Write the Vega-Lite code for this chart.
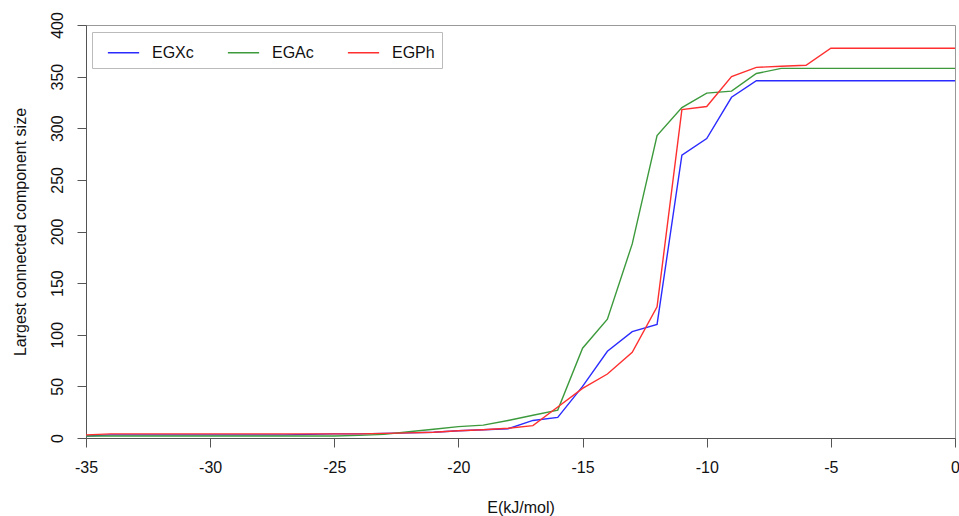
{
  "$schema": "https://vega.github.io/schema/vega-lite/v6.json",
  "width": 869,
  "height": 413,
  "autosize": "none",
  "padding": {"left": 86, "top": 25, "right": 4, "bottom": 78},
  "background": "white",
  "config": {
    "font": "Liberation Sans",
    "view": {"stroke": "#999", "strokeWidth": 1},
    "axis": {
      "grid": false,
      "labelFont": "Liberation Sans",
      "titleFont": "Liberation Sans",
      "labelFontSize": 16,
      "titleFontSize": 16,
      "labelColor": "#111",
      "titleColor": "#111",
      "titleFontWeight": "normal",
      "domainColor": "#555",
      "tickColor": "#555",
      "tickSize": 9
    },
    "legend": {
      "orient": "none",
      "legendX": 6,
      "legendY": 7,
      "direction": "horizontal",
      "columns": 3,
      "symbolType": "M-1.25,0H1.25",
      "symbolSize": 625,
      "symbolOffset": 11,
      "symbolStrokeWidth": 1.6,
      "labelFont": "Liberation Sans",
      "labelFontSize": 16,
      "labelColor": "#111",
      "labelOffset": 15,
      "columnPadding": 25,
      "padding": 7,
      "strokeColor": "#bbb",
      "fillColor": "white",
      "cornerRadius": 0
    }
  },
  "data": {
    "values": [
      {"E": -35, "EGXc": 2, "EGAc": 2, "EGPh": 3},
      {"E": -34, "EGXc": 3, "EGAc": 2, "EGPh": 4},
      {"E": -33, "EGXc": 3, "EGAc": 2, "EGPh": 4},
      {"E": -32, "EGXc": 3, "EGAc": 2, "EGPh": 4},
      {"E": -31, "EGXc": 3, "EGAc": 2, "EGPh": 4},
      {"E": -30, "EGXc": 3, "EGAc": 2, "EGPh": 4},
      {"E": -29, "EGXc": 3, "EGAc": 2, "EGPh": 4},
      {"E": -28, "EGXc": 3, "EGAc": 2, "EGPh": 4},
      {"E": -27, "EGXc": 3, "EGAc": 2, "EGPh": 4},
      {"E": -26, "EGXc": 3.5, "EGAc": 2, "EGPh": 4},
      {"E": -25, "EGXc": 4, "EGAc": 2, "EGPh": 4},
      {"E": -24, "EGXc": 4, "EGAc": 2.5, "EGPh": 4},
      {"E": -23, "EGXc": 4.5, "EGAc": 3.5, "EGPh": 4.5},
      {"E": -22, "EGXc": 5, "EGAc": 6, "EGPh": 5},
      {"E": -21, "EGXc": 5.5, "EGAc": 8.5, "EGPh": 5.5},
      {"E": -20, "EGXc": 7, "EGAc": 11, "EGPh": 7},
      {"E": -19, "EGXc": 8, "EGAc": 12.5, "EGPh": 8},
      {"E": -18, "EGXc": 9, "EGAc": 17, "EGPh": 9.5},
      {"E": -17, "EGXc": 17, "EGAc": 22, "EGPh": 12},
      {"E": -16, "EGXc": 20, "EGAc": 27, "EGPh": 30},
      {"E": -15, "EGXc": 50, "EGAc": 87, "EGPh": 48},
      {"E": -14, "EGXc": 84, "EGAc": 115, "EGPh": 62},
      {"E": -13, "EGXc": 103, "EGAc": 188, "EGPh": 83},
      {"E": -12, "EGXc": 110, "EGAc": 293, "EGPh": 127},
      {"E": -11, "EGXc": 274, "EGAc": 320, "EGPh": 318},
      {"E": -10, "EGXc": 290, "EGAc": 334, "EGPh": 321},
      {"E": -9, "EGXc": 330, "EGAc": 336, "EGPh": 350},
      {"E": -8, "EGXc": 346, "EGAc": 353, "EGPh": 359},
      {"E": -7, "EGXc": 346, "EGAc": 358, "EGPh": 360},
      {"E": -6, "EGXc": 346, "EGAc": 358, "EGPh": 361},
      {"E": -5, "EGXc": 346, "EGAc": 358, "EGPh": 377.5},
      {"E": -4, "EGXc": 346, "EGAc": 358, "EGPh": 377.5},
      {"E": -3, "EGXc": 346, "EGAc": 358, "EGPh": 377.5},
      {"E": -2, "EGXc": 346, "EGAc": 358, "EGPh": 377.5},
      {"E": -1, "EGXc": 346, "EGAc": 358, "EGPh": 377.5},
      {"E": 0, "EGXc": 346, "EGAc": 358, "EGPh": 377.5}
    ]
  },
  "transform": [
    {"fold": ["EGXc", "EGAc", "EGPh"], "as": ["series", "size"]}
  ],
  "mark": {"type": "line", "strokeWidth": 1.4, "clip": true},
  "encoding": {
    "x": {
      "field": "E",
      "type": "quantitative",
      "scale": {"domain": [-35, 0], "nice": false, "zero": false},
      "axis": {
        "values": [-35, -30, -25, -20, -15, -10, -5, 0],
        "labelExpr": "'' + datum.value",
        "title": "E(kJ/mol)",
        "labelPadding": 12,
        "titlePadding": 24,
        "labelFlush": false
      }
    },
    "y": {
      "field": "size",
      "type": "quantitative",
      "scale": {"domain": [0, 400], "nice": false},
      "axis": {
        "values": [0, 50, 100, 150, 200, 250, 300, 350, 400],
        "title": "Largest connected component size",
        "labelAngle": 270,
        "labelAlign": "center",
        "labelBaseline": "bottom",
        "labelPadding": 12,
        "titlePadding": 21,
        "labelFlush": false
      }
    },
    "color": {
      "field": "series",
      "type": "nominal",
      "scale": {"domain": ["EGXc", "EGAc", "EGPh"], "range": ["#2b2bff", "#3c9a3c", "#ff2f2f"]},
      "legend": {"title": null}
    },
    "order": {"field": "E", "type": "quantitative"}
  }
}
